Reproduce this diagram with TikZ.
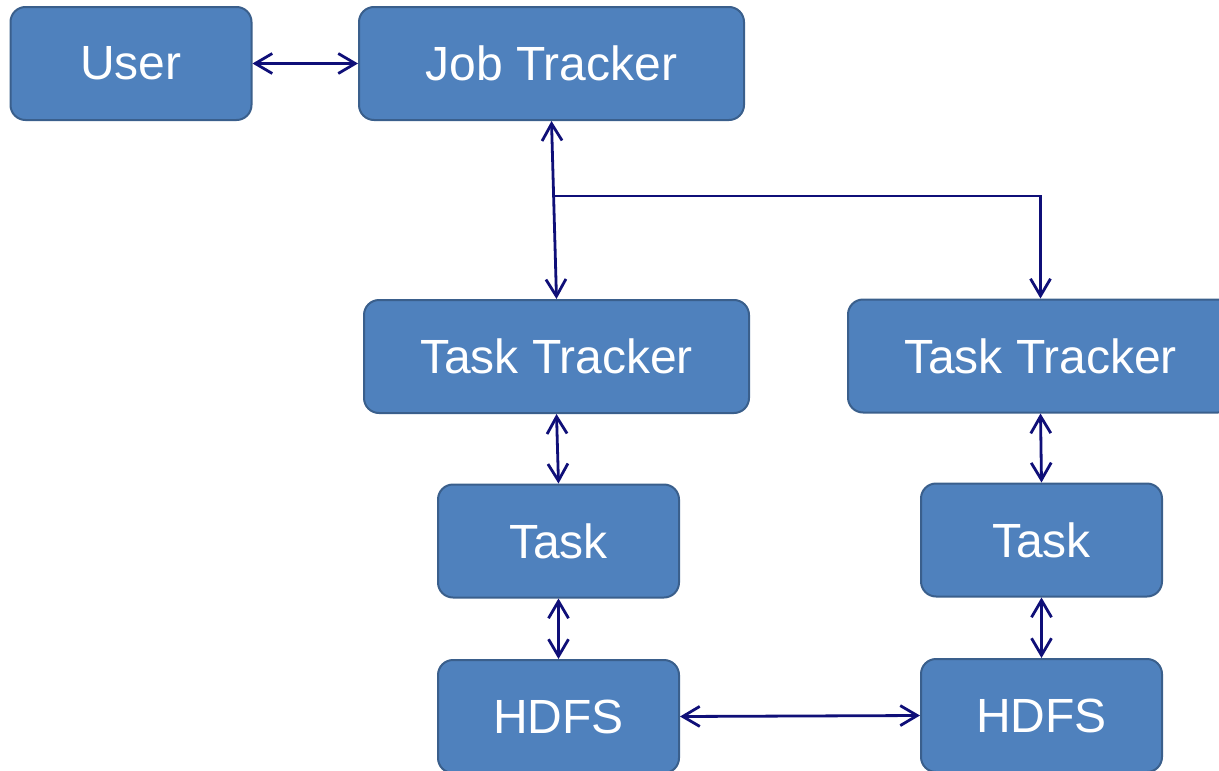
\documentclass[tikz,border=0pt]{standalone}
\usepackage{fontspec}
\setmainfont{Liberation Sans}
\usetikzlibrary{arrows.meta}
\definecolor{boxfill}{HTML}{4F81BD}
\definecolor{boxline}{HTML}{3A5F8C}
\definecolor{navy}{RGB}{15,15,120}
\begin{document}
\begin{tikzpicture}[x=1pt,y=-1pt,
  box/.style={draw=boxline, line width=2pt, fill=boxfill, rounded corners=15pt,
    inner sep=0pt, minimum height=113pt, text=white,
    font=\fontsize{48}{52}\selectfont},
  wide/.style={box, minimum width=385pt},
  narrow/.style={box, minimum width=241pt},
  conn/.style={draw=navy, line width=2.8pt,
    arrows={Straight Barb[length=17pt,width=20pt,line width=2.8pt]-Straight Barb[length=17pt,width=20pt,line width=2.8pt]}},
  oneway/.style={draw=navy, line width=2.8pt,
    arrows={-Straight Barb[length=17pt,width=20pt,line width=2.8pt]}}]
\useasboundingbox (0,0) rectangle (1219,771);
\clip (0,0) rectangle (1219,771);
\node[narrow] (user) at (131,63.5) {User};
\node[wide] (job) at (551.5,63.5) {Job Tracker};
\node[wide] (tt1) at (556.5,356.5) {Task Tracker};
\node[wide] (tt2) at (1040.5,356) {Task Tracker};
\node[narrow] (task1) at (558.5,541) {Task};
\node[narrow] (task2) at (1041.5,540) {Task};
\node[narrow] (hdfs1) at (558.5,716.5) {HDFS};
\node[narrow] (hdfs2) at (1041.5,715.5) {HDFS};
\coordinate (branch) at (554.5,196);
\draw[conn] (user.east) -- (job.west);
\draw[conn] (job.south) -- (tt1.north);
\draw[oneway] (branch) -| (tt2.north);
\draw[conn] (tt1.south) -- (task1.north);
\draw[conn] (tt2.south) -- (task2.north);
\draw[conn] (task1.south) -- (hdfs1.north);
\draw[conn] (task2.south) -- (hdfs2.north);
\draw[conn] (hdfs1.east) -- (hdfs2.west);
\end{tikzpicture}
\end{document}
